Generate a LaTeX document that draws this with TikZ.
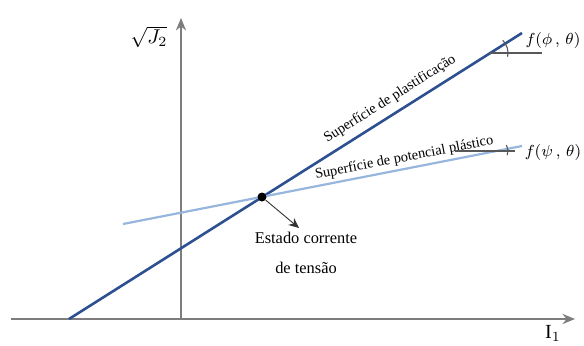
\documentclass[tikz,border=0pt]{standalone}
\usepackage{fontspec}
\setmainfont{Liberation Serif}
\usepackage{xcolor}
\usetikzlibrary{arrows.meta}

\definecolor{plastblue}{RGB}{45,80,145}
\definecolor{potblue}{RGB}{150,182,222}
\definecolor{axisgray}{RGB}{125,125,125}

\begin{document}
\begin{tikzpicture}[
x=0.5pt, y=-0.5pt,
axis/.style={draw=axisgray, line width=0.75pt, -{Stealth[length=2.2mm, width=1.8mm]}},
plast/.style={draw=plastblue, line width=1.3pt},
pot/.style={draw=potblue, line width=1.1pt},
lbl/.style={font=\fontsize{7.2}{8}\selectfont},
anglemark/.style={draw=axisgray!70!black, line width=0.55pt},
flab/.style={font=\fontsize{8}{9}\selectfont, inner sep=1pt},
dot/.style={circle, fill=black, inner sep=0pt, minimum size=4.5pt},
statelbl/.style={align=center, font=\fontsize{8.2}{15}\selectfont},
pointer/.style={-{Stealth[length=1.8mm, width=1.6mm]}, line width=0.45pt, black!80}
]
\useasboundingbox (0,0) rectangle (584,345);
% axes
\coordinate (xstart) at (11,319);
\coordinate (xend) at (575,319);
\coordinate (O) at (181,319);
\coordinate (yend) at (181,18);
\draw[axis] (xstart) -- (xend);
\draw[axis] (O) -- (yend);
\node (ylab) at (149,37) {$\sqrt{J_2}$};
\node (xlab) at (553,333) {$\mathrm{I}_1$};
% surfaces
\coordinate (pl0) at (69,319);
\coordinate (pl1) at (522,33);
\coordinate (pt0) at (123,224);
\coordinate (pt1) at (522,146);
\draw[plast] (pl0) -- (pl1) node[lbl, sloped, above, pos=0.726] {Superfície de plastificação};
\draw[pot] (pt0) -- (pt1) node[lbl, sloped, above, pos=0.71, inner sep=1.5pt] {Superfície de potencial plástico};
% angles
\coordinate (a1) at (490,53);
\coordinate (a1e) at (542,53);
\draw[anglemark] (a1) -- (a1e);
\draw[anglemark] ([shift={(12:18)}]a1) arc[start angle=12, end angle=-45, radius=18];
\node[flab] (fphi) at (553,40) {$f(\phi\,,\,\theta)$};
\coordinate (a2) at (496,151);
\coordinate (a2s) at (455,151);
\coordinate (a2e) at (515,151);
\draw[anglemark] (a2s) -- (a2e);
\draw[anglemark] ([shift={(20:12)}]a2) arc[start angle=20, end angle=-30, radius=12];
\node[flab] (fpsi) at (553,152) {$f(\psi\,,\,\theta)$};
% current stress state
\node[dot] (state) at (262,197) {};
\coordinate (statetip) at (299,228);
\draw[pointer] (state) -- (statetip);
\node[statelbl] (statelab) at (306,253) {Estado corrente\\de tensão};
\end{tikzpicture}
\end{document}
